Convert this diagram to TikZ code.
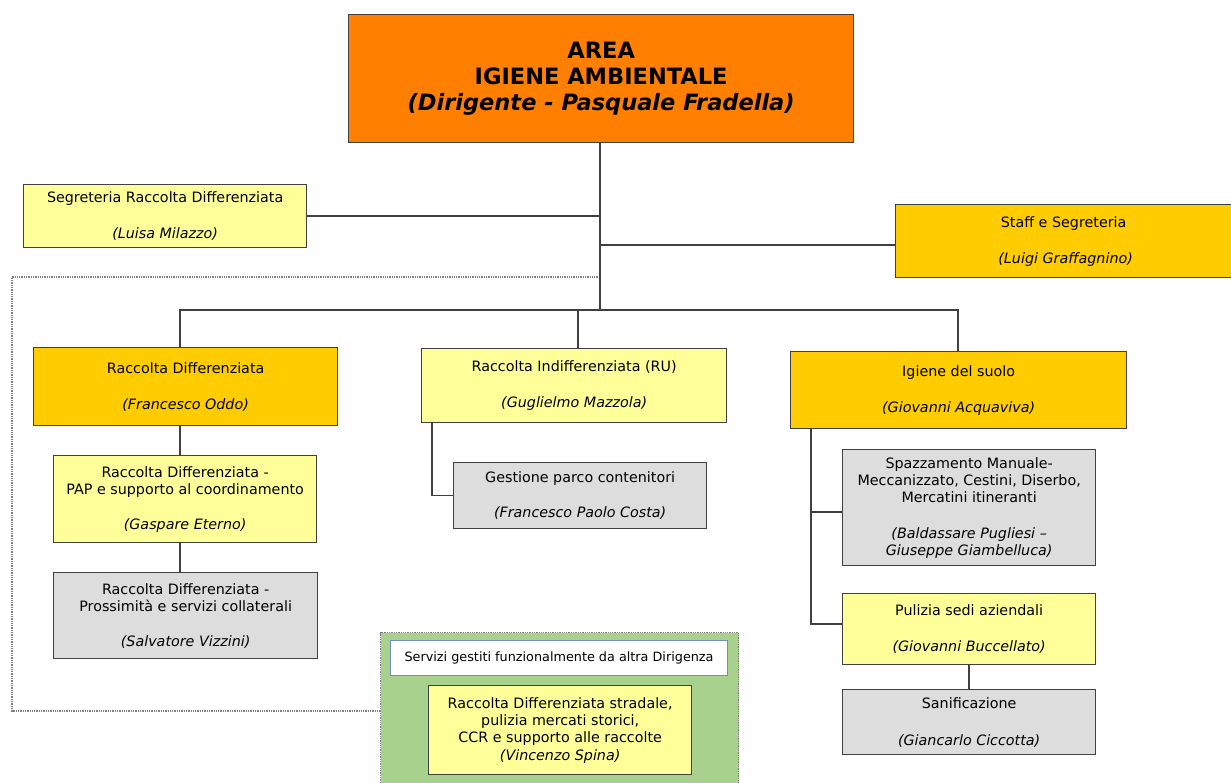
\documentclass[tikz,border=0pt]{standalone}
\usepackage{fontspec}
\setmainfont{DejaVu Sans}
\definecolor{orangetop}{HTML}{FF8000}
\definecolor{gold}{HTML}{FFCC00}
\definecolor{lightyel}{HTML}{FFFF99}
\definecolor{lgray}{HTML}{DDDDDD}
\definecolor{greenbg}{HTML}{A9D18E}
\definecolor{edge}{HTML}{404040}
\definecolor{blueedge}{HTML}{6F8FC0}
\begin{document}
\begin{tikzpicture}[x=1pt,y=-1pt,
  box/.style={draw=edge, line width=1.3pt, anchor=north west, inner sep=0pt, align=center,
    font=\fontsize{14.3}{17}\selectfont},
  conn/.style={draw=edge, line width=1.6pt},
  frame/.style={draw=gray, line width=1.3pt, densely dotted}
]
\clip (0,0) rectangle (1231,783);
\fill[white] (0,0) rectangle (1231,783);

% top
\node[box, fill=orangetop, minimum width=505pt, minimum height=128pt,
  font=\fontsize{22.5}{26}\selectfont\bfseries] (top) at (348,14)
  {AREA\\IGIENE AMBIENTALE\\\textit{(Dirigente - Pasquale Fradella)}};

\node[box, fill=lightyel, minimum width=283pt, minimum height=63pt] (seg) at (23,184)
  {Segreteria Raccolta Differenziata\\[19pt]\textit{(Luisa Milazzo)}};
\node[box, fill=gold, minimum width=340pt, minimum height=73pt] (staff) at (895,204)
  {\hspace*{-4pt}Staff e Segreteria\\[19pt]\textit{(Luigi Graffagnino)}};

% dotted frame and green area
\coordinate (frtop) at (600,277);
\coordinate (frend) at (380,711);
\draw[frame] (frtop) -- (12,277) -- (12,711) -- (frend);

\node[anchor=north west, fill=greenbg, draw=gray, line width=1.3pt, densely dotted,
  minimum width=358pt, minimum height=170pt, inner sep=0pt] (green) at (380,632) {};
\node[anchor=north west, fill=white, draw=blueedge, line width=1.1pt, inner sep=0pt,
  minimum width=337pt, minimum height=35pt, font=\fontsize{12.8}{15}\selectfont] (altra) at (390,640)
  {Servizi gestiti funzionalmente da altra Dirigenza};
\node[box, fill=lightyel, minimum width=263pt, minimum height=89pt] (spina) at (428,685)
  {Raccolta Differenziata stradale,\\pulizia mercati storici,\\CCR e supporto alle raccolte\\[1pt]\textit{(Vincenzo Spina)}};

% second level
\node[box, fill=gold, minimum width=304pt, minimum height=78pt] (rd) at (33,347)
  {Raccolta Differenziata\\[19pt]\textit{(Francesco Oddo)}};
\node[box, fill=lightyel, minimum width=305pt, minimum height=74pt] (ri) at (421,348)
  {Raccolta Indifferenziata (RU)\\[19pt]\textit{(Guglielmo Mazzola)}};
\node[box, fill=gold, minimum width=336pt, minimum height=77pt] (ig) at (790,351)
  {Igiene del suolo\\[19pt]\textit{(Giovanni Acquaviva)}};

% third level
\node[box, fill=lightyel, minimum width=263pt, minimum height=87pt] (pap) at (53,455)
  {Raccolta Differenziata -\\PAP e supporto al coordinamento\\[18pt]\textit{(Gaspare Eterno)}};
\node[box, fill=lgray, minimum width=264pt, minimum height=86pt] (pross) at (53,572)
  {Raccolta Differenziata -\\Prossimità e servizi collaterali\\[18pt]\textit{(Salvatore Vizzini)}};
\node[box, fill=lgray, minimum width=253pt, minimum height=66pt] (gest) at (453,462)
  {Gestione parco contenitori\\[18pt]\textit{(Francesco Paolo Costa)}};
\node[box, fill=lgray, minimum width=253pt, minimum height=116pt] (spaz) at (842,449)
  {Spazzamento Manuale-\\Meccanizzato, Cestini, Diserbo,\\Mercatini itineranti\\[19pt]\textit{(Baldassare Pugliesi –}\\\textit{Giuseppe Giambelluca)}};
\node[box, fill=lightyel, minimum width=253pt, minimum height=71pt] (pul) at (842,593)
  {Pulizia sedi aziendali\\[19pt]\textit{(Giovanni Buccellato)}};
\node[box, fill=lgray, minimum width=253pt, minimum height=65pt] (sanif) at (842,689)
  {Sanificazione\\[20pt]\textit{(Giancarlo Ciccotta)}};

% connectors
\coordinate (bus) at (600,310);
\coordinate (rdtop) at (180,347);
\coordinate (ritop) at (578,348);
\coordinate (igtop) at (958,351);
\coordinate (trunk) at (600,142);
\draw[conn] (trunk) -- (bus);
\draw[conn] (seg.east) -- (seg.east -| trunk);
\draw[conn] (staff.west |- 0,245) -- (trunk |- 0,245);
\draw[conn] (rdtop) -- (rdtop |- bus) -- (igtop |- bus) -- (igtop);
\draw[conn] (ritop) -- (ritop |- bus);
\draw[conn] (rdtop |- rd.south) -- (rdtop |- pap.north);
\draw[conn] (rdtop |- pap.south) -- (rdtop |- pross.north);
\coordinate (riroot) at (432,422);
\draw[conn] (riroot) |- (gest.west);
\coordinate (igroot) at (811,428);
\draw[conn] (igroot) |- (pul.west |- 0,624);
\draw[conn] (igroot |- 0,512) -- (spaz.west |- 0,512);
\draw[conn] (pul.south) -- (sanif.north);
\end{tikzpicture}
\end{document}
